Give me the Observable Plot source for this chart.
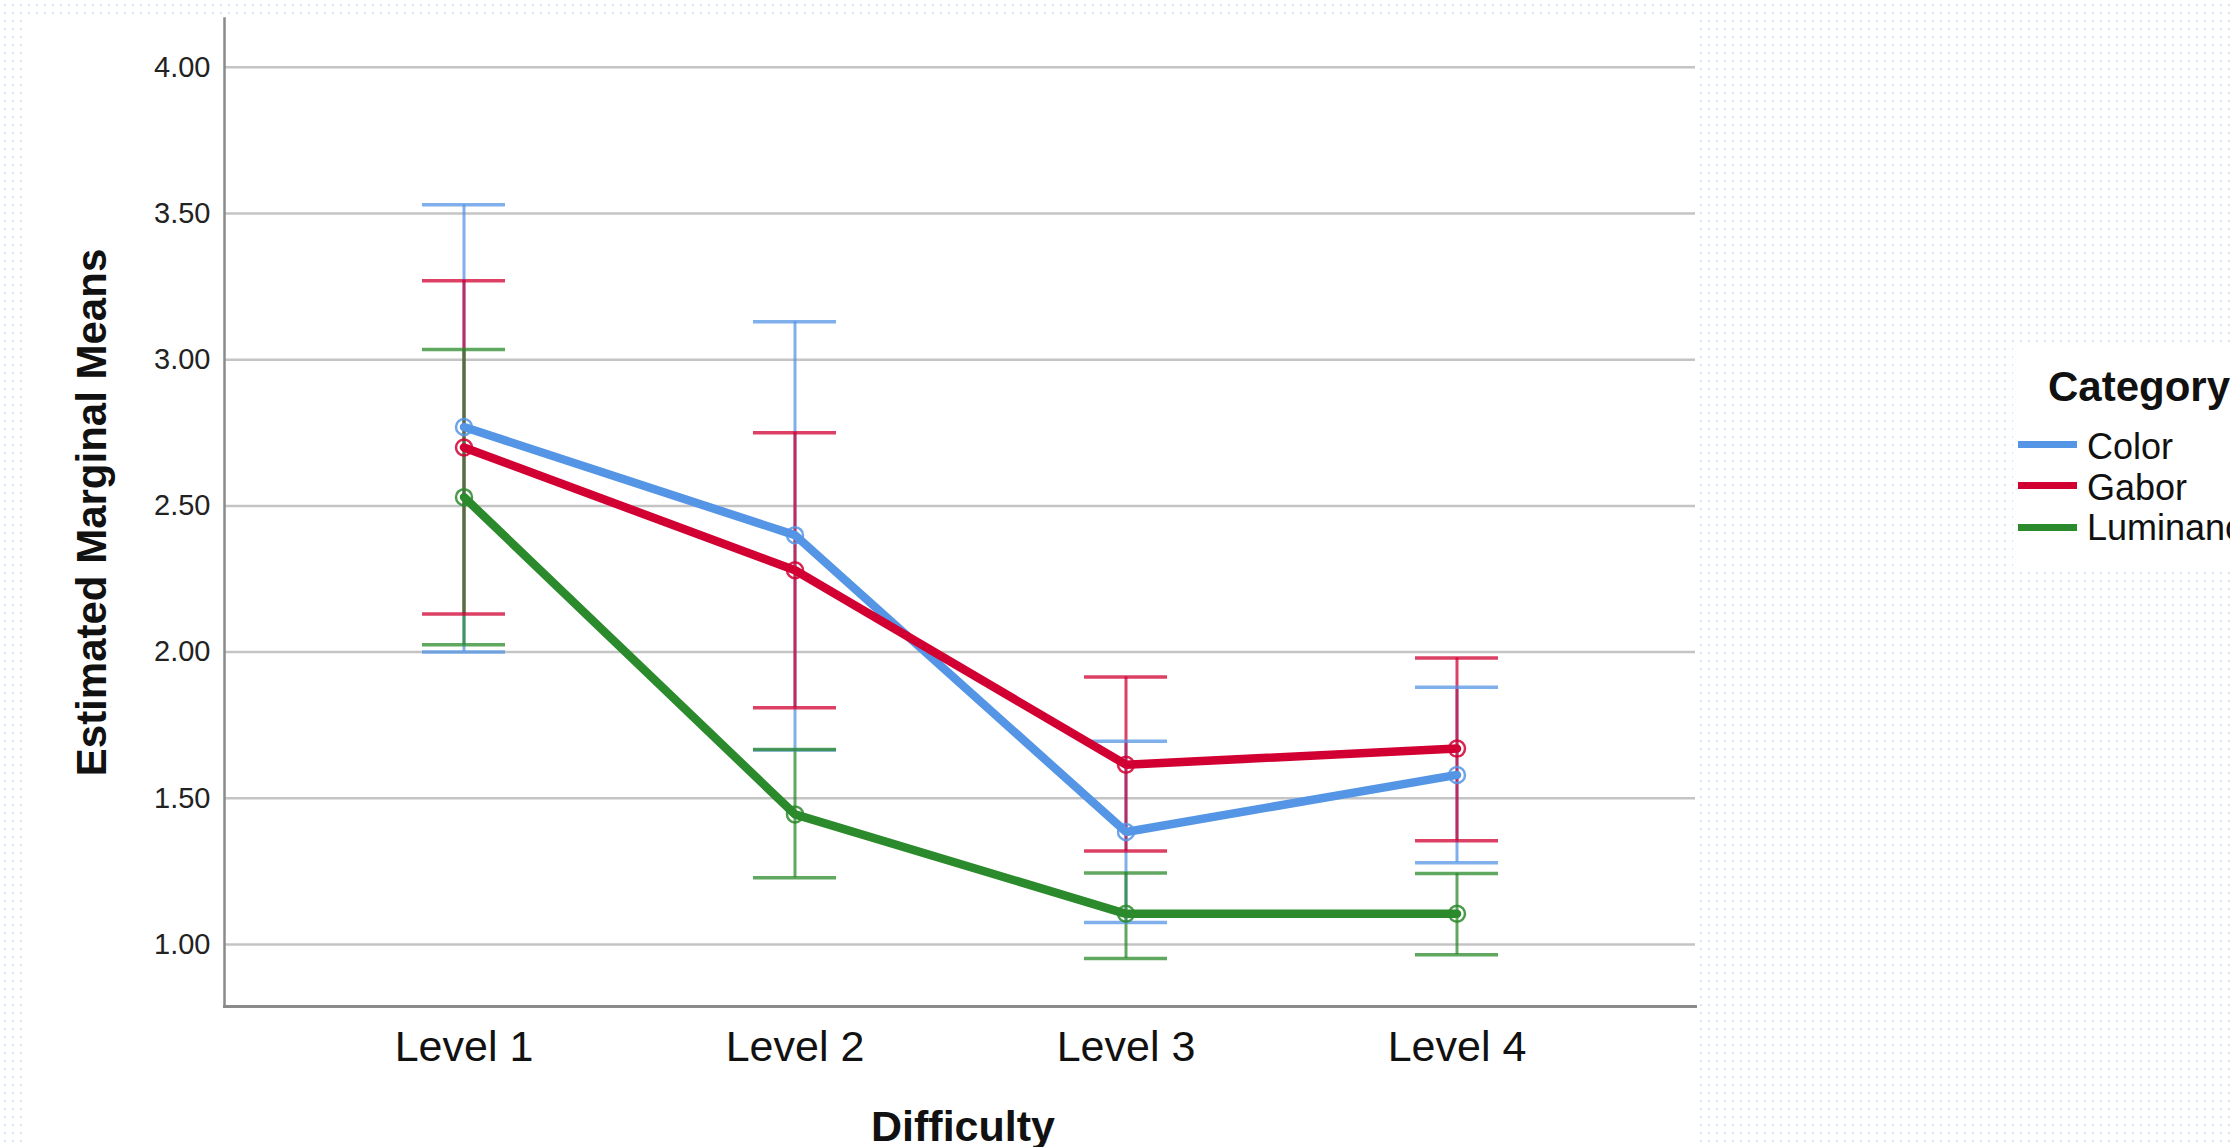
<!DOCTYPE html>
<html>
<head>
<meta charset="utf-8">
<script src="https://cdn.jsdelivr.net/npm/d3@7"></script>
<script src="https://cdn.jsdelivr.net/npm/@observablehq/plot@0.6"></script>
<style>
html, body { margin: 0; padding: 0; }
body {
  width: 2230px; height: 1147px; overflow: hidden; position: relative;
  background-color: #ffffff;
  background-image: radial-gradient(circle, #d6e4f7 1px, rgba(255,255,255,0) 1.5px);
  background-size: 8px 8px;
  background-position: 1px 1px;
  font-family: "Liberation Sans", Arial, sans-serif;
}
#chart { position: absolute; left: 22px; top: 17px; width: 1675px; height: 1130px; background: #fff; }
#legend { position: absolute; left: 2013px; top: 345px; width: 217px; height: 222px; background: #fff; overflow: hidden; }
#legend .title { position: absolute; left: 35px; top: 21px; font-size: 42px; line-height: 42px; font-weight: bold; color: #111; white-space: nowrap; }
#legend .sw { position: absolute; left: 5px; width: 59px; height: 7px; }
#legend .lab { position: absolute; left: 74px; font-size: 36px; line-height: 36px; color: #111; white-space: nowrap; }
</style>
</head>
<body>
<div id="chart"></div>
<div id="legend"></div>
<script>
// ---- data ----
const levels = ["Level 1", "Level 2", "Level 3", "Level 4"];
const categories = ["Color", "Gabor", "Luminance"];
const palette = ["#5595e5", "#d20032", "#2b8a2b"];

const colorMean  = [2.77, 2.40, 1.385, 1.58];
const colorLower = [2.00, 1.665, 1.075, 1.28];
const colorUpper = [3.53, 3.13, 1.695, 1.88];

const gaborMean  = [2.70, 2.28, 1.615, 1.67];
const gaborLower = [2.13, 1.81, 1.32, 1.355];
const gaborUpper = [3.27, 2.75, 1.915, 1.98];

const lumMean  = [2.53, 1.445, 1.105, 1.105];
const lumLower = [2.025, 1.228, 0.952, 0.965];
const lumUpper = [3.035, 1.667, 1.245, 1.243];

const yTicks = [1.00, 1.50, 2.00, 2.50, 3.00, 3.50, 4.00];
const yDomain = [0.788, 4.167];
const xTitle = "Difficulty";
const yTitle = "Estimated Marginal Means";
const legendTitle = "Category";

// ---- table ----
const means = [colorMean, gaborMean, lumMean];
const lowers = [colorLower, gaborLower, lumLower];
const uppers = [colorUpper, gaborUpper, lumUpper];
const rows = categories.flatMap((c, ci) => levels.map((lv, i) => ({
  category: c, level: lv, mean: means[ci][i], lower: lowers[ci][i], upper: uppers[ci][i]
})));

const chart = Plot.plot({
  width: 1675,
  height: 1130,
  marginLeft: 202,
  marginRight: 2,
  marginTop: 1,
  marginBottom: 141,
  style: { fontFamily: "Liberation Sans, Arial, sans-serif", background: "transparent", overflow: "visible", color: "#111" },
  x: { type: "band", domain: levels, paddingInner: 0.75, paddingOuter: 0.593, align: 0.5, axis: null },
  y: { domain: yDomain, axis: null },
  color: { domain: categories, range: palette },
  marks: [
    Plot.ruleY(yTicks, { stroke: "#c4c4c4", strokeWidth: 2.5 }),
    Plot.frame({ anchor: "left", stroke: "#8a8a8a", strokeWidth: 2.5 }),
    Plot.frame({ anchor: "bottom", stroke: "#8a8a8a", strokeWidth: 3 }),
    Plot.axisY({ ticks: yTicks, tickFormat: d3.format(".2f"), tickSize: 0, tickPadding: 14, fontSize: 29, label: null, fill: "#222" }),
    Plot.axisX({ tickSize: 0, tickPadding: 24, fontSize: 43, label: null, fill: "#111" }),
    Plot.ruleX(rows, { x: "level", y1: "lower", y2: "upper", stroke: "category", strokeWidth: 3, strokeOpacity: 0.75 }),
    Plot.tickY(rows, { x: "level", y: "lower", stroke: "category", strokeWidth: 3.5, strokeOpacity: 0.75 }),
    Plot.tickY(rows, { x: "level", y: "upper", stroke: "category", strokeWidth: 3.5, strokeOpacity: 0.75 }),
    Plot.line(rows, { x: "level", y: "mean", z: "category", stroke: "category", strokeWidth: 8.5 }),
    Plot.dot(rows, { x: "level", y: "mean", stroke: "category", r: 8, strokeWidth: 2.5, fill: "none", strokeOpacity: 0.85 }),
    Plot.text([yTitle], { frameAnchor: "left", textAnchor: "middle", text: d => d, rotate: -90, dx: -132, fontSize: 42, fontWeight: "bold", fill: "#111" }),
    Plot.text([xTitle], { frameAnchor: "bottom", textAnchor: "middle", text: d => d, dy: 134, dx: 3, fontSize: 43, fontWeight: "bold", fill: "#111" })
  ]
});
document.getElementById("chart").appendChild(chart);

// ---- legend ----
const legend = document.getElementById("legend");
const t = document.createElement("div");
t.className = "title"; t.textContent = legendTitle;
legend.appendChild(t);
categories.forEach((c, i) => {
  const sw = document.createElement("div");
  sw.className = "sw";
  sw.style.top = (95.5 + i * 41.5) + "px";
  sw.style.background = palette[i];
  legend.appendChild(sw);
  const lab = document.createElement("div");
  lab.className = "lab";
  lab.style.top = (84 + i * 40.5) + "px";
  lab.textContent = c;
  legend.appendChild(lab);
});
</script>
</body>
</html>
